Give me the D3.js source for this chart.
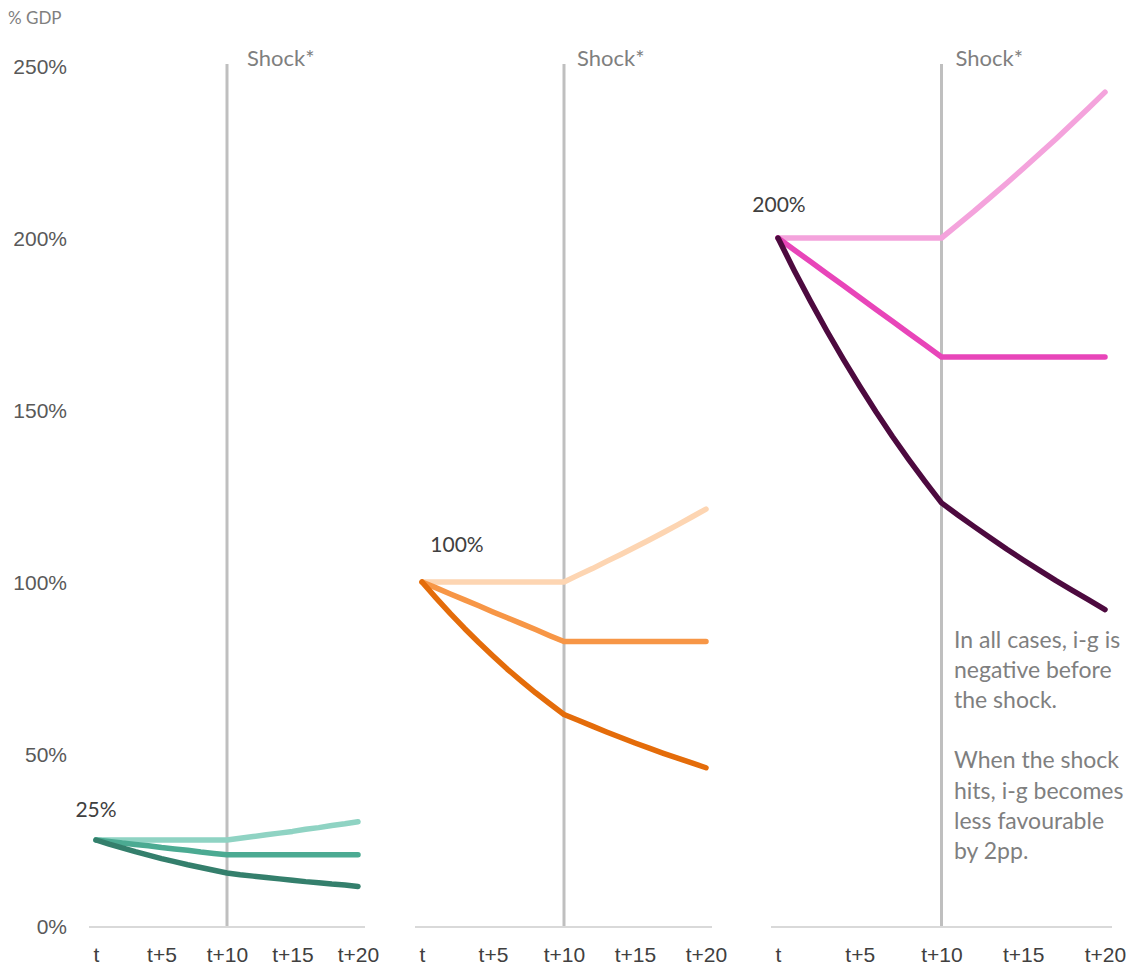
<!DOCTYPE html>
<html>
<head>
<meta charset="utf-8">
<script src="https://cdn.jsdelivr.net/npm/d3@7"></script>
<style>
  html, body { margin: 0; padding: 0; background: #fff; }
  svg { display: block; font-family: "Source Sans Pro", Lato, "Noto Sans", sans-serif; }
</style>
</head>
<body>
<svg id="chart" width="1137" height="968"></svg>
<script>
// Years after the starting point t
const years = d3.range(0, 21);
const xTickValues = [0, 5, 10, 15, 20];
const xTickLabels = ["t", "t+5", "t+10", "t+15", "t+20"];
const yTickValues = [0, 50, 100, 150, 200, 250];
const shockYear = 10;

// Debt paths, % GDP — starting at 25%
const low_favourable = [25,23.8,22.7,21.6,20.6,19.6,18.7,17.8,17.0,16.2,15.4,14.9,14.5,14.1,13.7,13.3,12.9,12.6,12.2,11.9,11.5];
const low_balanced   = [25,24.6,24.1,23.7,23.3,22.8,22.4,22.0,21.5,21.1,20.7,20.7,20.7,20.7,20.7,20.7,20.7,20.7,20.7,20.7,20.7];
const low_adverse    = [25,25,25,25,25,25,25,25,25,25,25,25.5,26.0,26.5,27.0,27.5,28.1,28.6,29.2,29.7,30.3];

// Starting at 100%
const mid_favourable = [100,95.3,90.8,86.5,82.4,78.5,74.7,71.2,67.8,64.6,61.5,59.8,58.1,56.4,54.8,53.2,51.7,50.2,48.8,47.4,46.0];
const mid_balanced   = [100,98.3,96.5,94.8,93.1,91.3,89.6,87.9,86.2,84.4,82.7,82.7,82.7,82.7,82.7,82.7,82.7,82.7,82.7,82.7,82.7];
const mid_adverse    = [100,100,100,100,100,100,100,100,100,100,100,102.0,103.9,106.0,108.0,110.1,112.2,114.4,116.6,118.9,121.2];

// Starting at 200%
const high_favourable = [200,190.5,181.5,172.9,164.7,156.9,149.4,142.3,135.6,129.2,123.0,119.5,116.1,112.8,109.5,106.4,103.4,100.4,97.6,94.8,92.0];
const high_balanced   = [200,196.5,193.1,189.6,186.2,182.7,179.2,175.8,172.3,168.9,165.4,165.4,165.4,165.4,165.4,165.4,165.4,165.4,165.4,165.4,165.4];
const high_adverse    = [200,200,200,200,200,200,200,200,200,200,200,203.9,207.8,211.9,216.0,220.2,224.5,228.8,233.3,237.8,242.4];

const startLabels = ["25%", "100%", "200%"];
const noteLines = ["In all cases, i-g is", "negative before", "the shock.", "", "When the shock", "hits, i-g becomes", "less favourable", "by 2pp."];

const svg = d3.select("#chart");

const y = d3.scaleLinear().domain([0, 250]).range([926, 66]);

// Panel geometry and colours
const panels = [
  { range: [96, 358], axis: [89, 365], shockDx: 20, labelDx: 0, labelDy: -30, label: startLabels[0], start: low_adverse[0],
    series: [
      { values: low_adverse, color: "#8fd3c3" },
      { values: low_balanced, color: "#4baa92" },
      { values: low_favourable, color: "#347f6c" }
    ] },
  { range: [422, 706], axis: [415, 712], shockDx: 13, labelDx: 35, labelDy: -37, label: startLabels[1], start: mid_adverse[0],
    series: [
      { values: mid_adverse, color: "#fdd5b2" },
      { values: mid_balanced, color: "#f79646" },
      { values: mid_favourable, color: "#e46c0a" }
    ] },
  { range: [778, 1105], axis: [771, 1112], shockDx: 14, labelDx: 1, labelDy: -33, label: startLabels[2], start: high_adverse[0],
    series: [
      { values: high_adverse, color: "#f4a3dc" },
      { values: high_balanced, color: "#e845b9" },
      { values: high_favourable, color: "#4d0a3f" }
    ] }
];

// Unit label
svg.append("text")
  .attr("x", 8).attr("y", 24)
  .attr("font-size", 17).attr("fill", "#7f7f7f")
  .text("% GDP");

// Y axis labels (no axis line)
const yAxis = d3.axisLeft(y).tickValues(yTickValues).tickSize(0).tickPadding(0)
  .tickFormat(d => d + "%");
const yg = svg.append("g").attr("transform", "translate(67,0)").call(yAxis);
yg.select(".domain").remove();
yg.selectAll("text").attr("font-size", 21).attr("fill", "#595959")
  .attr("font-family", null).attr("dy", "0.35em");

panels.forEach(p => {
  const x = d3.scaleLinear().domain([0, 20]).range(p.range);
  const g = svg.append("g");

  // baseline
  g.append("line")
    .attr("x1", p.axis[0]).attr("x2", p.axis[1])
    .attr("y1", y(0) + 1).attr("y2", y(0) + 1)
    .attr("stroke", "#d9d9d9").attr("stroke-width", 2);

  // x tick labels
  const xAxis = d3.axisBottom(x).tickValues(xTickValues).tickSize(0).tickPadding(0)
    .tickFormat((d, i) => xTickLabels[i]);
  const xg = g.append("g").attr("transform", `translate(0,${y(0) + 21})`).call(xAxis);
  xg.select(".domain").remove();
  xg.selectAll("text").attr("font-size", 21).attr("fill", "#404040")
    .attr("font-family", null).attr("dy", "0.71em");

  // shock marker
  g.append("line")
    .attr("x1", x(shockYear)).attr("x2", x(shockYear))
    .attr("y1", 64).attr("y2", y(0))
    .attr("stroke", "#bfbfbf").attr("stroke-width", 3);
  g.append("text")
    .attr("x", x(shockYear) + p.shockDx).attr("y", 66)
    .attr("font-size", 22).attr("fill", "#7f7f7f")
    .text("Shock*");

  // debt paths
  const line = d3.line().x((d, i) => x(years[i])).y(d => y(d));
  p.series.forEach(s => {
    g.append("path")
      .datum(s.values)
      .attr("d", line)
      .attr("fill", "none")
      .attr("stroke", s.color)
      .attr("stroke-width", 5.5)
      .attr("stroke-linecap", "round")
      .attr("stroke-linejoin", "round");
  });

  // starting level label
  g.append("text")
    .attr("x", x(0) + p.labelDx).attr("y", y(p.start) + p.labelDy)
    .attr("dy", "0.35em")
    .attr("text-anchor", "middle")
    .attr("font-size", 21).attr("fill", "#404040")
    .text(p.label);
});

// explanatory note
const note = svg.append("text")
  .attr("font-size", 23).attr("fill", "#7f7f7f");
noteLines.forEach((t, i) => {
  note.append("tspan").attr("x", 954).attr("y", 648 + i * 30.1).text(t);
});
</script>
</body>
</html>
